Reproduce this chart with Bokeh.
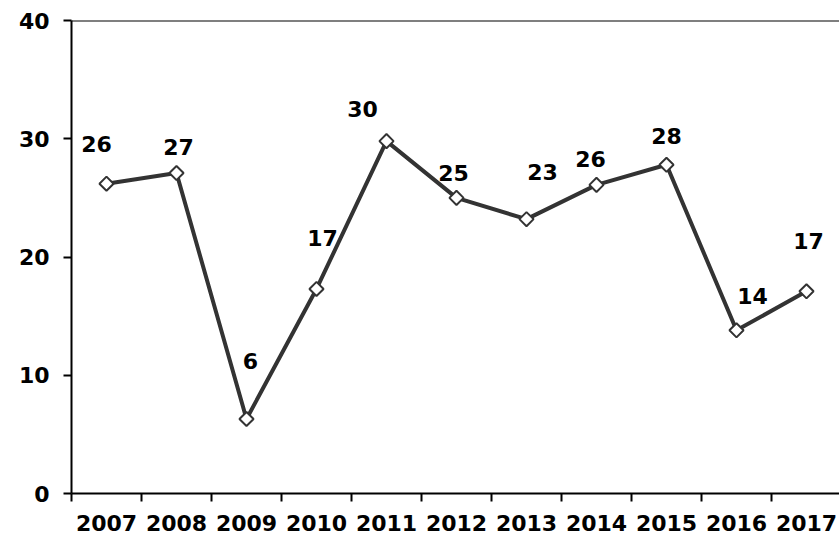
import math
from bokeh.plotting import figure
from bokeh.models import Range1d, FixedTicker, Span, ColumnDataSource, LabelSet
from bokeh.embed import file_html
from bokeh.resources import INLINE
from bokeh.core.properties import value

# ---- data ----
years = ["2007", "2008", "2009", "2010", "2011", "2012", "2013", "2014", "2015", "2016", "2017"]
values = [26.2, 27.1, 6.3, 17.3, 29.8, 25.0, 23.2, 26.1, 27.8, 13.8, 17.1]
labels = ["26", "27", "6", "17", "30", "25", "23", "26", "28", "14", "17"]
y_ticks = [0, 10, 20, 30, 40]

# label placement (style, pixels)
label_dx = [-10, 2, 4, 6, -24, -3, 16, -6, 0, 16, 2]
label_dy = [40, 26, 58, 51, 32, 25, 47, 26, 29, 34, 50]

FONT = "DejaVu Sans"
FS = "22px"

xs = [i + 0.5 for i in range(len(years))]
src = ColumnDataSource(dict(x=xs, y=values, lab=labels, dx=label_dx, dy=label_dy))

p = figure(width=839, height=538, output_backend="svg", toolbar_location=None,
           x_range=Range1d(0, 768 / 70), y_range=Range1d(0, 40),
           min_border_left=71, min_border_right=0, min_border_top=20, min_border_bottom=45)
p.grid.visible = False
p.outline_line_color = None
p.background_fill_color = "white"
p.border_fill_color = "white"

# x axis: labels at centers, ticks at boundaries (minor ticks)
xa = p.xaxis[0]
xa.ticker = FixedTicker(ticks=xs, minor_ticks=list(range(len(years) + 1)))
xa.major_label_overrides = {x: y for x, y in zip(xs, years)}
xa.major_tick_line_color = None
xa.minor_tick_in = 0
xa.minor_tick_out = 8
xa.minor_tick_line_color = "black"
xa.minor_tick_line_width = 2
xa.axis_line_color = "black"
xa.axis_line_width = 2
xa.major_label_text_font = FONT
xa.major_label_text_font_style = "bold"
xa.major_label_text_font_size = FS
xa.major_label_text_color = "black"
xa.major_label_standoff = 13

ya = p.yaxis[0]
ya.ticker = FixedTicker(ticks=y_ticks, minor_ticks=[])
ya.major_tick_in = 0
ya.major_tick_out = 8
ya.major_tick_line_width = 2
ya.major_tick_line_color = "black"
ya.axis_line_color = "black"
ya.axis_line_width = 2
ya.major_label_text_font = FONT
ya.major_label_text_font_style = "bold"
ya.major_label_text_font_size = FS
ya.major_label_text_color = "black"
ya.major_label_standoff = 14

p.add_layout(Span(location=40, dimension="width", line_color="black", line_width=2))

p.line("x", "y", source=src, line_color="#333333", line_width=4)
p.scatter("x", "y", source=src, marker="square", angle=math.pi / 4, size=10,
          fill_color="white", line_color="#333333", line_width=2)

p.add_layout(LabelSet(x="x", y="y", text="lab", source=src, x_offset="dx", y_offset="dy",
                      text_align="center", text_baseline="middle",
                      text_font=value(FONT), text_font_style="bold",
                      text_font_size=value(FS), text_color="black"))

open("out.html", "w").write(file_html(p, INLINE))
